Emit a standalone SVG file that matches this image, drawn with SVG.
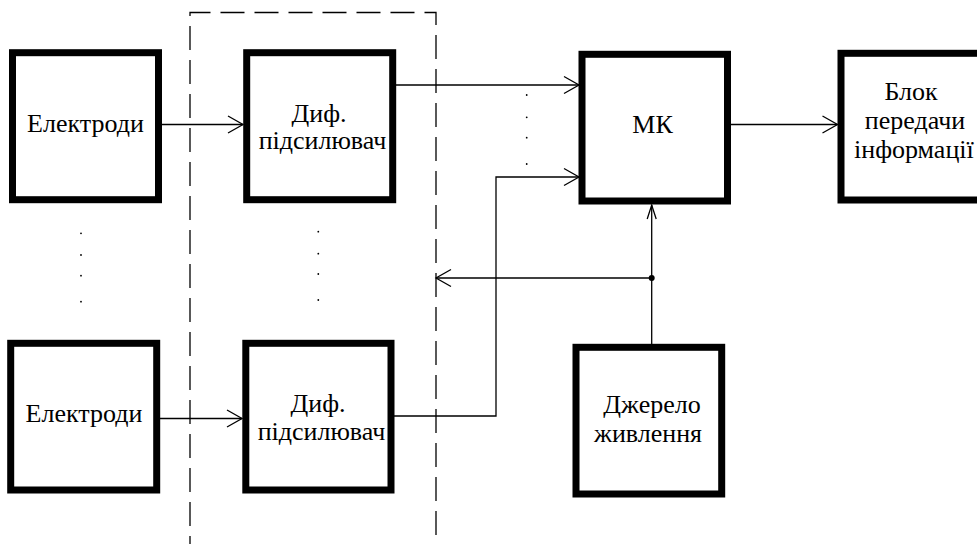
<svg xmlns="http://www.w3.org/2000/svg" width="977" height="544" viewBox="0 0 977 544" font-family="'Liberation Serif', 'DejaVu Serif', serif">
<style>
.box{fill:#fff;stroke:#000;stroke-width:7}
.t{font-size:26px;fill:#000;text-anchor:middle}
.ln{fill:none;stroke:#000;stroke-width:1.3}
.dash{fill:none;stroke:#000;stroke-width:1.3;stroke-dasharray:24 10}
.dot{fill:#000}
</style>
<defs>
<marker id="arr" markerUnits="userSpaceOnUse" viewBox="-17 -11 18 22" markerWidth="18" markerHeight="22" refX="0" refY="0" orient="auto" overflow="visible">
<path d="M-15,-8.5 L0,0 L-15,8.5" fill="none" stroke="#000" stroke-width="1.3"/>
</marker>
<marker id="arrn" markerUnits="userSpaceOnUse" viewBox="-17 -11 18 22" markerWidth="18" markerHeight="22" refX="0" refY="0" orient="auto" overflow="visible">
<path d="M-14,-4.5 L0,0 L-14,4.5" fill="none" stroke="#000" stroke-width="1.3"/>
</marker>
</defs>

<g id="frame">
<path class="dash" d="M190,560 L190,12.5 L436,12.5 L436,560"/>
</g>

<g id="connectors">
<line class="ln" x1="161" y1="124.5" x2="243" y2="124.5" marker-end="url(#arr)"/>
<line class="ln" x1="160" y1="418.5" x2="242" y2="418.5" marker-end="url(#arr)"/>
<line class="ln" x1="396" y1="85" x2="579" y2="85" marker-end="url(#arr)"/>
<polyline class="ln" points="394,416 496,416 496,177 579,177" marker-end="url(#arr)"/>
<line class="ln" x1="731" y1="124.5" x2="837.5" y2="124.5" marker-end="url(#arr)"/>
<line class="ln" x1="651.7" y1="344" x2="651.7" y2="205" marker-end="url(#arrn)"/>
<line class="ln" x1="651.7" y1="278" x2="436" y2="278" marker-end="url(#arr)"/>
<circle class="dot" cx="651.7" cy="278" r="3"/>
<g class="dot">
<circle cx="526.7" cy="95" r="0.9"/><circle cx="526.7" cy="117.3" r="0.9"/><circle cx="526.7" cy="137.7" r="0.9"/><circle cx="526.7" cy="164" r="0.9"/>
<circle cx="81" cy="233.3" r="0.9"/><circle cx="81" cy="255" r="0.9"/><circle cx="81" cy="275.7" r="0.9"/><circle cx="81" cy="301.7" r="0.9"/>
<circle cx="318.3" cy="231.7" r="0.9"/><circle cx="318.3" cy="253.7" r="0.9"/><circle cx="318.3" cy="274" r="0.9"/><circle cx="318.3" cy="300" r="0.9"/>
</g>
</g>

<g id="electrodes1">
<rect class="box" x="12.5" y="52.7" width="146" height="147"/>
<text class="t" x="85.5" y="132.3">Електроди</text>
</g>
<g id="electrodes2">
<rect class="box" x="10.7" y="343.3" width="146" height="146.7"/>
<text class="t" x="84" y="421.7">Електроди</text>
</g>
<g id="amp1">
<rect class="box" x="246.7" y="52.7" width="146" height="147"/>
<text class="t" x="319" y="121.7">Диф.</text>
<text class="t" x="322.5" y="149.3">підсилювач</text>
</g>
<g id="amp2">
<rect class="box" x="245.8" y="343.3" width="145.2" height="146.7"/>
<text class="t" x="318" y="411.7">Диф.</text>
<text class="t" x="321.5" y="440">підсилювач</text>
</g>
<g id="mk">
<rect class="box" x="582" y="54.3" width="145.5" height="146.7"/>
<text class="t" x="652.5" y="133.3">МК</text>
</g>
<g id="tx">
<rect class="box" x="841" y="53.3" width="146" height="146.7"/>
<text class="t" x="911" y="100">Блок</text>
<text class="t" x="915" y="129">передачи</text>
<text class="t" x="854" y="157.5" style="text-anchor:start">інформації</text>
</g>
<g id="power">
<rect class="box" x="576" y="347.3" width="145.7" height="146.7"/>
<text class="t" x="652" y="413">Джерело</text>
<text class="t" x="648" y="441.7">живлення</text>
</g>
</svg>
